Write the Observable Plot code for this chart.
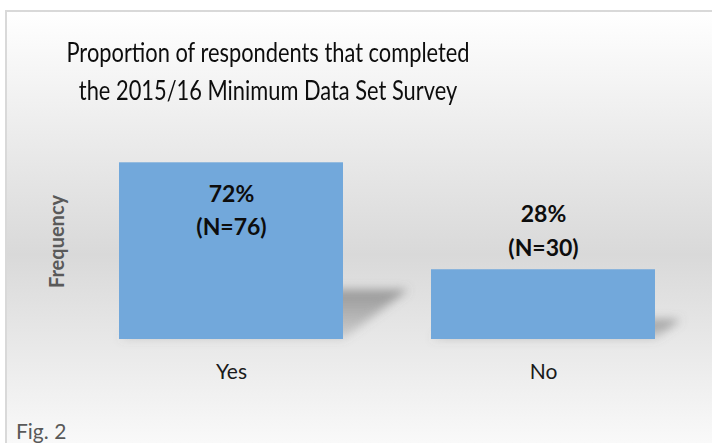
<!DOCTYPE html>
<html><head><meta charset="utf-8">
<script src="https://cdn.jsdelivr.net/npm/d3@7"></script>
<script src="https://cdn.jsdelivr.net/npm/@observablehq/plot@0.6"></script>
<style>
body{margin:0;width:712px;height:443px;overflow:hidden;background:#fff;font-family:Lato,sans-serif;position:relative}
#box{position:absolute;left:5px;top:10px;width:800px;height:470px;border:2px solid #d9d9d9;box-sizing:border-box;background:linear-gradient(to bottom,#ffffff 0%,#d9d9d9 52%,#ffffff 100%)}
#title{position:absolute;left:0;top:33px;width:536px;text-align:center;font-size:26px;line-height:38px;color:#0d0d0d;transform:scaleX(0.84);transform-origin:268px 0}
#chart{position:absolute;left:0;top:120px}
#caption{position:absolute;left:16px;top:418px;font-size:21px;line-height:25px;color:#595959}
</style>
</head><body>
<div id="box"></div>
<div id="title">Proportion of respondents that completed<br>the 2015/16 Minimum Data Set Survey</div>
<div id="chart"></div>
<div id="caption">Fig. 2</div>
<script>
const categories = ["Yes", "No"];
const counts = [76, 30];
const percents = ["72%", "28%"];
const yLabel = "Frequency";

const data = categories.map((c, i) => ({category: c, count: counts[i], pct: percents[i], n: `(N=${counts[i]})`}));
const inside = data.filter(d => d.count > 50);
const outside = data.filter(d => d.count <= 50);
const lab = {x: "category", y: "count", fontSize: 23, fontWeight: "bold", fill: "#0d0d0d"};

const plot = Plot.plot({
  width: 712, height: 280,
  marginLeft: 74, marginRight: 13, marginTop: 33, marginBottom: 61,
  style: {background: "transparent", fontFamily: "Lato, sans-serif", fontSize: "21px", color: "#1a1a1a", overflow: "visible"},
  x: {domain: categories, paddingInner: 0.283, paddingOuter: 0.1415, label: null, tickSize: 0, tickPadding: 25},
  y: {domain: [0, 80], axis: null},
  marks: [
    Plot.barY(data, {x: "category", y: "count", fill: "url(#shadowGrad)"}),
    Plot.barY(data, {x: "category", y: "count", fill: "#72a8db"}),
    Plot.text(inside, {...lab, text: "pct", dy: 31.6}),
    Plot.text(inside, {...lab, text: "n", dy: 64.6}),
    Plot.text(outside, {...lab, text: "pct", dy: -55.4}),
    Plot.text(outside, {...lab, text: "n", dy: -21.4}),
    Plot.text([yLabel], {text: d => d, frameAnchor: "left", textAnchor: "middle", rotate: -90, dx: -17, dy: -5, fontSize: 20, fontWeight: "bold", fill: "#595959"})
  ]
});
document.getElementById("chart").appendChild(plot);

const svg = d3.select(plot);
svg.insert("defs", ":first-child").html(
  '<filter id="shBlur" x="-50%" y="-50%" width="200%" height="200%"><feGaussianBlur stdDeviation="5"/></filter>' +
  '<linearGradient id="shadowGrad" x1="0" y1="0" x2="0" y2="1"><stop offset="0" stop-color="#707070" stop-opacity="0.65"/><stop offset="1" stop-color="#707070" stop-opacity="0.2"/></linearGradient>'
);
const barGroups = svg.selectAll('g[aria-label="bar"]').nodes();
const shadowG = d3.select(barGroups[0]);
shadowG.attr("filter", "url(#shBlur)");
shadowG.selectAll("rect").each(function() {
  const r = d3.select(this);
  const y = +r.attr("y"), h = +r.attr("height");
  const yb = y + h, c = 0.37, s = 0.28;
  r.attr("transform", `matrix(1,0,${-c},${s},${c * yb},${yb * (1 - s)})`);
});
</script>
</body></html>
